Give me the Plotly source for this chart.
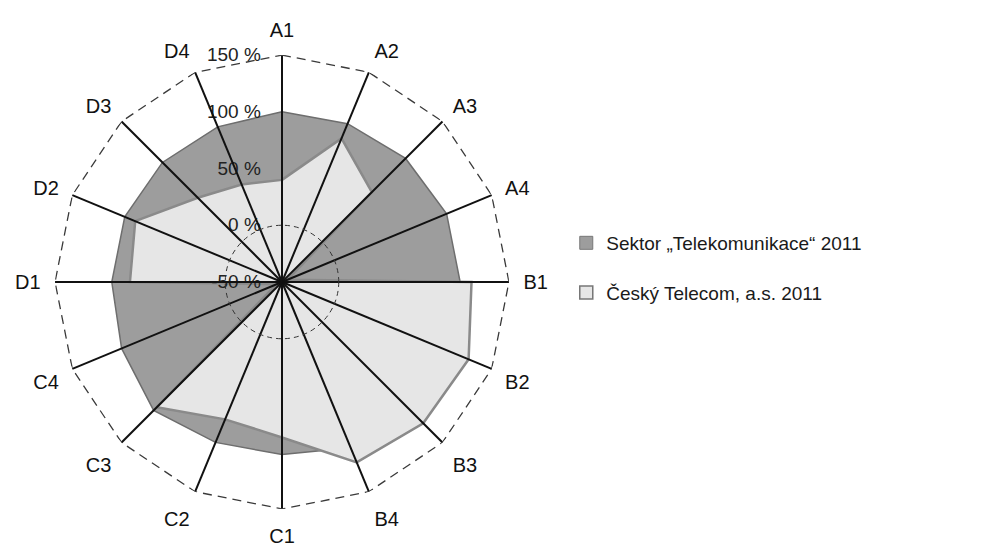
import plotly.graph_objects as go

categories = ["A1", "A2", "A3", "A4", "B1", "B2", "B3", "B4",
              "C1", "C2", "C3", "C4", "D1", "D2", "D3", "D4"]
sektor = [100, 101, 104, 107, 107, 112, 112, 108,
          102, 103, 110, 103, 100, 100, 99, 98]
telecom = [40, 87, 62, -45, 117, 128, 126, 122,
           87, 81, 106, -45, 84, 90, 55, 43]
radial_ticks = [-50, 0, 50, 100, 150]
outer = [150] * len(categories)
series_names = ["Sektor „Telekomunikace“ 2011", "Český Telecom, a.s. 2011"]

FONT = "Liberation Sans, Arial, Helvetica, sans-serif"
DARK = "#9d9d9d"
LIGHT = "#e6e6e6"

def closed(v):
    return list(v) + [v[0]]

fig = go.Figure()
fig.add_trace(go.Scatterpolar(
    r=closed(sektor), theta=closed(categories), fill="toself",
    fillcolor=DARK, line=dict(color="#6e6e6e", width=1.5),
    mode="lines", name=series_names[0], showlegend=False, subplot="polar"))
fig.add_trace(go.Scatterpolar(
    r=closed(telecom), theta=closed(categories), fill="toself",
    fillcolor=LIGHT, line=dict(color="#8a8a8a", width=2.5),
    mode="lines", name=series_names[1], showlegend=False, subplot="polar"))
# legend-only entries with square swatches
fig.add_trace(go.Scatterpolar(
    r=[None], theta=[None], mode="markers", name=series_names[0],
    marker=dict(symbol="square", size=13, color=DARK,
                line=dict(color="#777777", width=1)),
    legendgroup="g1", subplot="polar"))
fig.add_trace(go.Scatterpolar(
    r=[None], theta=[None], mode="markers", name=series_names[1],
    marker=dict(symbol="square", size=13, color=LIGHT,
                line=dict(color="#777777", width=1.5)),
    legendgroup="g2", subplot="polar"))
# outer dashed frame at 150 %
fig.add_trace(go.Scatterpolar(
    r=closed(outer), theta=closed(categories), mode="lines",
    line=dict(color="#3a3a3a", width=1.3, dash="9px,6px"),
    showlegend=False, hoverinfo="skip", subplot="polar2"))

dom_x = [0.0556, 0.5141]
dom_y = [0.0712, 0.8996]

fig.update_layout(
    width=990, height=548,
    margin=dict(l=0, r=0, t=0, b=0),
    paper_bgcolor="white",
    font=dict(family=FONT, color="#1a1a1a"),
    polar=dict(
        domain=dict(x=dom_x, y=dom_y),
        bgcolor="rgba(0,0,0,0)",
        angularaxis=dict(type="category", categoryarray=categories,
                         rotation=90, direction="clockwise",
                         showgrid=False, showline=False, showticklabels=False,
                         ticks=""),
        radialaxis=dict(range=[-50, 150], tickvals=radial_ticks,
                        ticktext=[f"{v} %" for v in radial_ticks],
                        angle=90, side="counterclockwise", tickangle=90,
                        showgrid=False, showline=False, layer="above traces",
                        ticks="outside", ticklen=14, tickcolor="rgba(0,0,0,0)",
                        tickfont=dict(size=19, color="#222222", family=FONT)),
    ),
    polar2=dict(
        domain=dict(x=dom_x, y=dom_y),
        bgcolor="rgba(0,0,0,0)",
        angularaxis=dict(type="category", categoryarray=categories,
                         rotation=90, direction="clockwise",
                         showgrid=True, gridcolor="#111111", gridwidth=1.6,
                         showline=False, ticks="outside", ticklen=10,
                         tickcolor="rgba(0,0,0,0)",
                         tickfont=dict(size=20, color="#111111", family=FONT)),
        radialaxis=dict(range=[-50, 150], tickvals=[0],
                        showticklabels=False, ticks="",
                        showgrid=True, gridcolor="#333333", gridwidth=1.1,
                        griddash="5px,4px", showline=False),
    ),
    showlegend=True,
    legend=dict(x=0.572, y=0.511, xanchor="left", yanchor="middle",
                font=dict(size=19, color="#1a1a1a", family=FONT),
                traceorder="grouped", tracegroupgap=22,
                bgcolor="rgba(0,0,0,0)"),
)

fig.write_html("out.html")
